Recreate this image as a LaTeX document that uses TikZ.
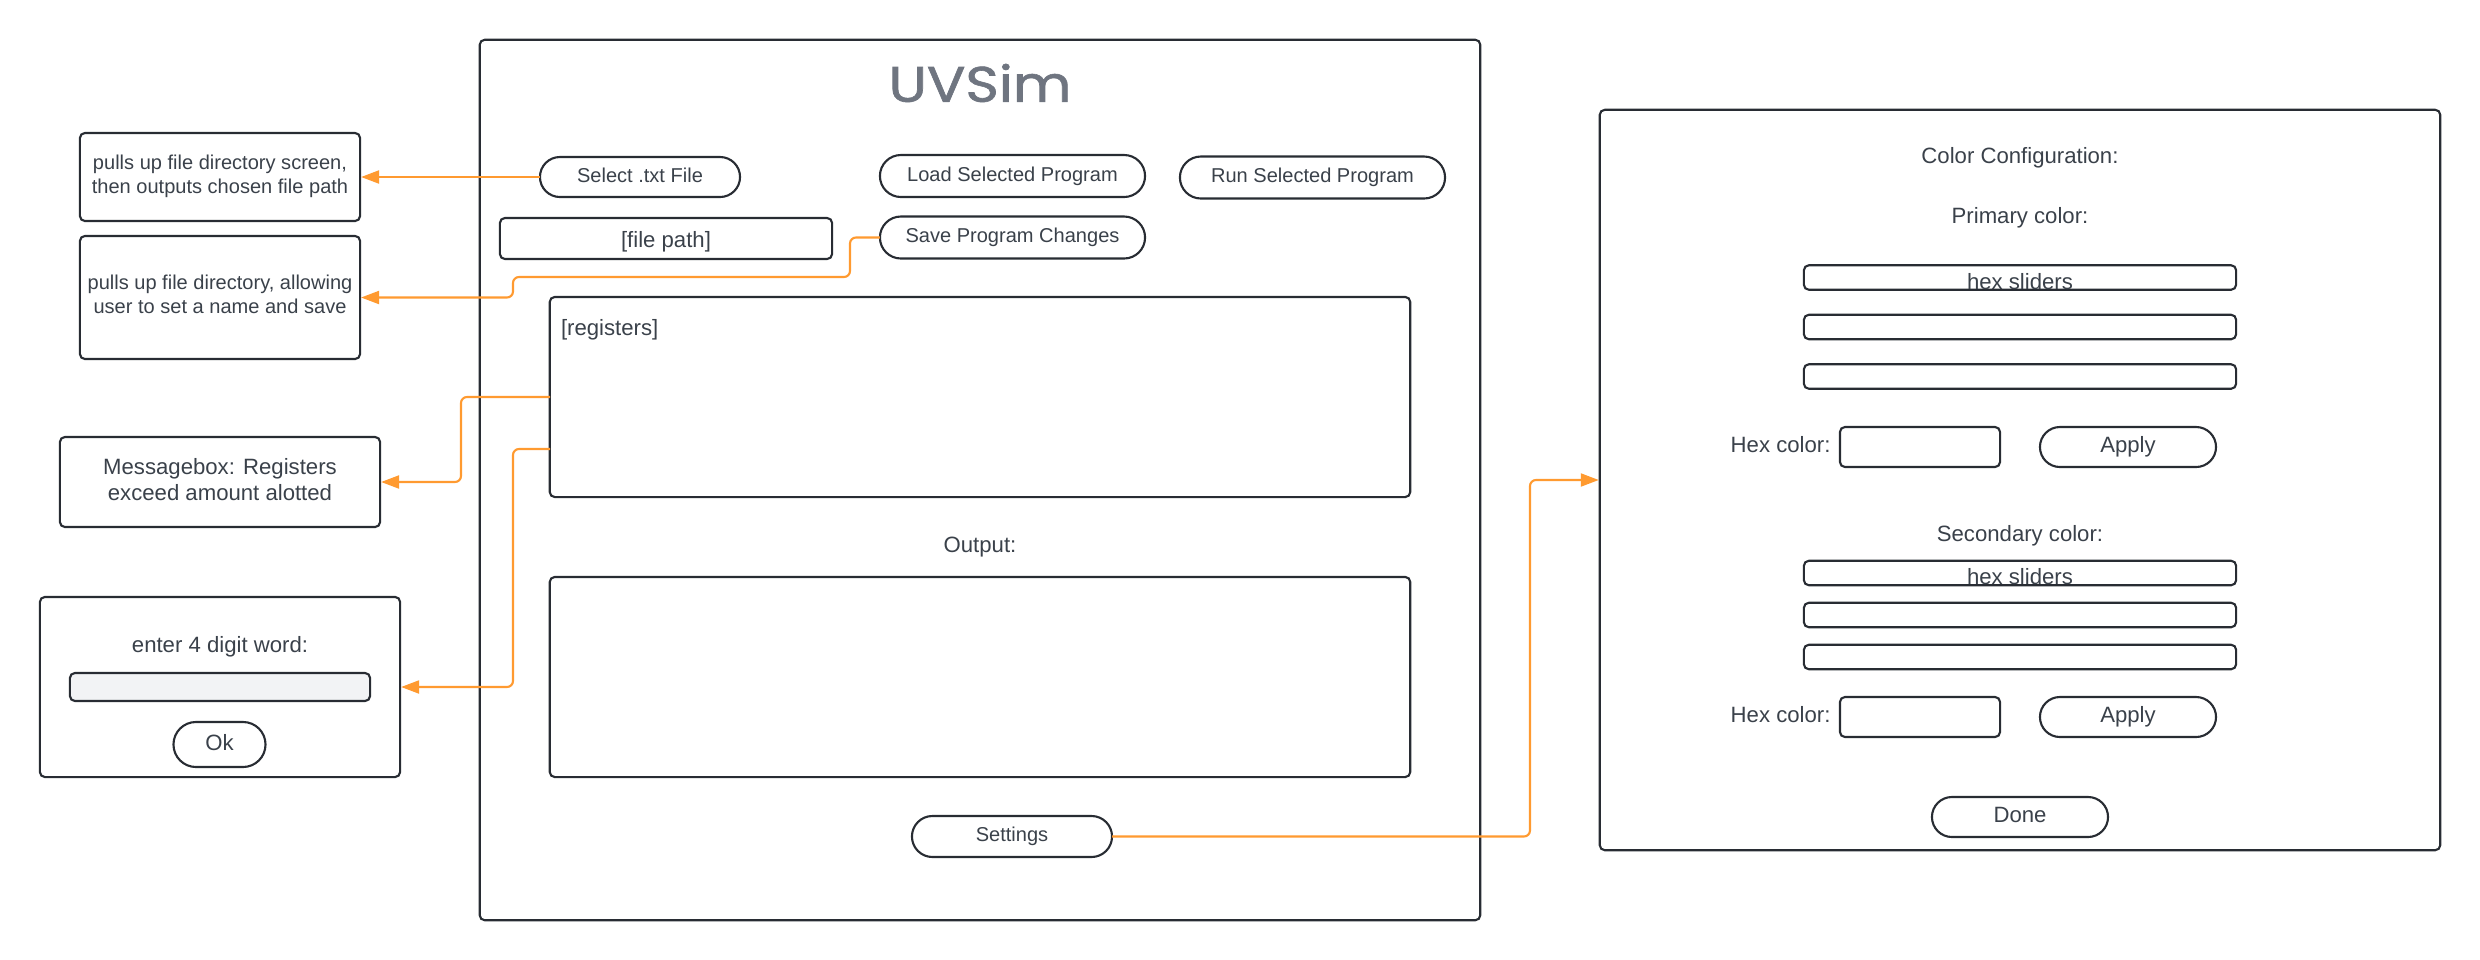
\documentclass[tikz,border=0pt]{standalone}
\usepackage{fontspec}
\setmainfont{Liberation Sans}
\newfontfamily\logofont[FakeBold=1.2]{Poppins}
\usetikzlibrary{arrows.meta}

\definecolor{inkline}{HTML}{282C33}
\definecolor{inktext}{HTML}{3A414A}
\definecolor{logogray}{HTML}{6F7580}
\definecolor{wireorange}{HTML}{FF9A30}
\definecolor{fieldgray}{HTML}{F2F3F5}

\tikzset{
    bigfont/.style={font=\fontsize{6.3}{7.4}\selectfont},
    smallfont/.style={font=\fontsize{5.7}{6.83}\selectfont},
    box/.style={draw=inkline, line width=0.6pt, rounded corners=0.05cm, text=inktext,
        inner sep=0pt, outer sep=0pt, align=center, bigfont},
    sizebox/.style args={#1x#2}{box, minimum width=#1 cm, minimum height=#2 cm},
    pill/.style args={#1x#2}{sizebox=#1x#2, rounded corners=#2*0.5 cm,
        text height=0.14cm, text depth=0.04cm},
    plain/.style={text=inktext, inner sep=0pt, outer sep=0pt, bigfont},
    wire/.style={draw=wireorange, line width=0.6pt, rounded corners=0.06cm,
        -{Triangle[length=0.18cm,width=0.13cm]}, shorten >=0.01cm},
}

\begin{document}
\begin{tikzpicture}[x=0.01cm,y=-0.01cm]
        \useasboundingbox (0,0) rectangle (2480,960);

        \node[sizebox=10x8.8] (mainwin) at (980,480) {};
        \node[font=\fontsize{14.2}{14.2}\selectfont\logofont, text=logogray, inner sep=0pt] (logo) at (980,83) {\scalebox{1.14}[1]{UVSim}};

        \node[pill=2x0.4, smallfont] (selectbtn) at (640,177) {Select .txt File};
        \node[pill=2.65x0.42, smallfont] (loadbtn) at (1012.5,176) {Load Selected Program};
        \node[pill=2.65x0.42, smallfont] (runbtn) at (1312.5,177.5) {Run Selected Program};
        \node[pill=2.65x0.42, smallfont] (savebtn) at (1012.5,237.5) {Save Program Changes};
        \node[sizebox=3.32x0.41, text height=0.22cm, text depth=0.05cm] (filepath) at (666,238.5) {[file path]};

        \node[sizebox=8.6x2.0] (registers) at (980,397) {};
        \node[plain, anchor=west] (registerstext) at (561,329.5) {[registers]};
        \node[plain] (outputlabel) at (980,547) {Output:};
        \node[sizebox=8.6x2.0] (outputbox) at (980,677) {};
        \node[pill=2x0.41, smallfont] (settingsbtn) at (1012,836.5) {Settings};

        \node[sizebox=2.8x0.88, smallfont] (pullfile) at (220,177) {pulls up file directory screen,\\then outputs chosen file path\\[-0.18cm]};
        \node[sizebox=2.8x1.23, smallfont] (pullsave) at (220,297.5) {pulls up file directory, allowing\\user to set a name and save\\[-0.18cm]};
        \node[sizebox=3.2x0.9] (msgbox) at (220,482) {Messagebox: Registers\\exceed amount alotted\\[-0.2cm]};

        \node[sizebox=3.6x1.8] (wordbox) at (220,687) {};
        \node[plain] (wordlabel) at (220,647) {enter 4 digit word:};
        \node[sizebox=3.0x0.28, fill=fieldgray] (wordfield) at (220,687) {};
        \node[pill=0.92x0.45, text height=0.16cm] (okbtn) at (219.5,744.5) {Ok};

        \node[sizebox=8.4x7.4] (configwin) at (2020,480) {};
        \node[plain] (configlabel) at (2020,158) {Color Configuration:};
        \node[plain] (primarylabel) at (2020,218) {Primary color:};
        \node[plain] (secondarylabel) at (2020,535.5) {Secondary color:};

        \foreach \name/\y in {pa/277.5,pb/327,pc/376.5,sa/573,sb/615,sc/657}
            \node[sizebox=4.32x0.245] (slider\name) at (2020,\y) {};
        \node[plain] (primaryhex) at (2020,282) {hex sliders};
        \node[plain] (secondaryhex) at (2020,577) {hex sliders};

        \foreach \name/\y in {p/447,s/717}
        {
            \node[sizebox=1.6x0.4] (hexbox\name) at (1920,\y) {};
            \node[pill=1.76x0.4] (apply\name) at (2128,\y) {Apply};
            \node[plain, anchor=east] (hexlabel\name) at ([xshift=-0.095cm,yshift=0.02cm]hexbox\name.west) {Hex color:};
        }
        \node[pill=1.76x0.4] (donebtn) at (2020,817) {Done};

        \coordinate (regupper) at (550,397);
        \coordinate (reglower) at (550,449);

        \draw[wire] (selectbtn.west) -- (pullfile.east);
        \draw[wire] (savebtn.west) -| (850,277) -- (513,277) |- (pullsave.east);
        \draw[wire] (regupper) -| (461,482) -- (msgbox.east);
        \draw[wire] (reglower) -| (513,687) -- (wordbox.east);
        \draw[wire] (settingsbtn.east) -| (1530,480) -- (configwin.west);
\end{tikzpicture}
\end{document}
